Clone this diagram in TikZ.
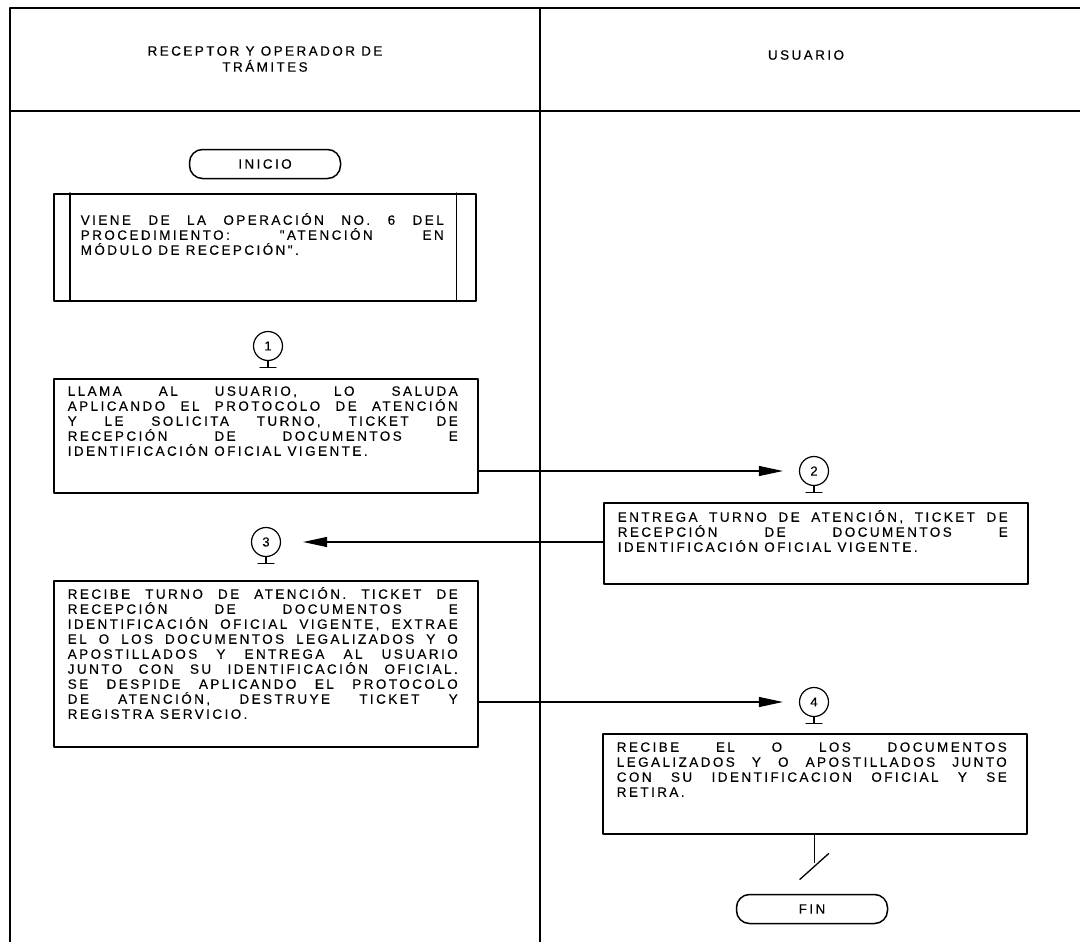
\documentclass[tikz,border=0pt]{standalone}
\usepackage{fontspec}
\setmainfont{Liberation Sans}
\newfontfamily\fuente{Liberation Sans}[LetterSpace=18,FakeBold=0.3]
\usetikzlibrary{
    arrows.meta,
    positioning,
    calc
}
\tikzstyle{flecha} = [line width=1.1pt,-{Triangle[length=24pt,width=10pt]}]
\tolerance=10000
\hbadness=10000
\hyphenpenalty=10000
% margen derecho e interlineado dentro de las cajas
\newcommand{\ajuste}[1]{\rightskip=#1\relax\baselineskip=15pt\relax\tolerance=10000\relax}

\begin{document}
\begin{tikzpicture}[
        x=1pt, y=-1pt,
        line cap=round,
        line join=round,
        texto/.style={font=\fuente\fontsize{13.5}{15}\selectfont},
        marco/.style={line width=1.8pt},
        caja/.style={draw, line width=1.5pt, anchor=north west, inner xsep=14pt,
            inner ysep=0pt, text width=396pt, align=justify, texto},
        paso/.style={draw, circle, minimum size=29pt, inner sep=0pt, line width=1.2pt,
            font=\fuente\fontsize{13}{13}\selectfont},
        extremo/.style={draw, rounded corners=13pt, minimum width=151pt,
            minimum height=29pt, line width=1.5pt, texto}
    ]

        \useasboundingbox (0,0) rectangle (1080,942);

        % marco y carriles
        \draw[marco] (10,942) -- (10,8) -- (1080,8);
        \draw[marco] (10,111) -- (1080,111);
        \draw[marco] (540,8) -- (540,942);

        % encabezados
        \node[texto, align=center] (carril1) at (265,59) {RECEPTOR Y OPERADOR DE\\[1pt]TRÁMITES};
        \node[texto] (carril2) at (806,55) {USUARIO};

        % inicio y proceso previo
        \node[extremo] (inicio) at (265,164) {INICIO};

        \node[caja, text width=368pt, inner xsep=27pt, text height=31pt, text depth=76pt]
            (pre) at (53,193)
            {\ajuste{5pt}VIENE DE LA OPERACIÓN NO. 6 DEL\linebreak
             PROCEDIMIENTO: "ATENCIÓN EN\linebreak
             MÓDULO DE RECEPCIÓN".\par};
        \draw[line width=1.5pt] ([xshift=17pt]pre.north west) -- ([xshift=17pt]pre.south west);
        \draw[line width=1.5pt] ([xshift=-20pt]pre.north east) -- ([xshift=-20pt]pre.south east);

        % pasos
        \node[paso] (c1) at (268,346) {1};
        \node[paso] (c2) at (814,471) {2};
        \node[paso] (c3) at (266,542) {3};
        \node[paso] (c4) at (814,702) {4};

        \foreach \c in {c1,c2,c3,c4}
            \draw[line width=1.2pt] (\c.south) -- ++(0,6) ++(-8,0) -- ++(16,0);

        % actividades
        \node[caja, text height=17pt, text depth=97pt] (b1) at (53,378)
            {\ajuste{6pt}LLAMA AL USUARIO, LO SALUDA\linebreak
             APLICANDO EL PROTOCOLO DE ATENCIÓN\linebreak
             Y LE SOLICITA TURNO, TICKET DE\linebreak
             RECEPCIÓN DE DOCUMENTOS E\linebreak
             IDENTIFICACIÓN OFICIAL VIGENTE.\par};

        \node[caja, text height=19pt, text depth=62pt] (b2) at (603,502)
            {\ajuste{6pt}ENTREGA TURNO DE ATENCIÓN, TICKET DE\linebreak
             RECEPCIÓN DE DOCUMENTOS E\linebreak
             IDENTIFICACIÓN OFICIAL VIGENTE.\par};

        \node[caja, text height=18pt, text depth=148pt] (b3) at (53,580)
            {\ajuste{6pt}RECIBE TURNO DE ATENCIÓN. TICKET DE\linebreak
             RECEPCIÓN DE DOCUMENTOS E\linebreak
             IDENTIFICACIÓN OFICIAL VIGENTE, EXTRAE\linebreak
             EL O LOS DOCUMENTOS LEGALIZADOS Y O\linebreak
             APOSTILLADOS Y ENTREGA AL USUARIO\linebreak
             JUNTO CON SU IDENTIFICACIÓN OFICIAL.\linebreak
             SE DESPIDE APLICANDO EL PROTOCOLO\linebreak
             DE ATENCIÓN, DESTRUYE TICKET Y\linebreak
             REGISTRA SERVICIO.\par};

        \node[caja, text height=18pt, text depth=82pt] (b4) at (602,733)
            {\ajuste{6pt}RECIBE EL O LOS DOCUMENTOS\linebreak
             LEGALIZADOS Y O APOSTILLADOS JUNTO\linebreak
             CON SU IDENTIFICACION OFICIAL Y SE\linebreak
             RETIRA.\par};

        % flujo entre carriles
        \draw[flecha, shorten >=16pt] (b1.east |- c2) -- (c2.west);
        \draw[flecha, shorten >=22pt] (b2.west |- c3) -- (c3.east);
        \draw[flecha, shorten >=16pt] (b3.east |- c4) -- (c4.west);

        % fin
        \coordinate (corte) at ($(b4.south)+(0,28)$);
        \draw[line width=1.3pt] (b4.south) -- (corte);
        \draw[line width=1.3pt] ($(corte)+(14,-9)$) -- ($(corte)+(-15,17)$);

        \node[extremo] (fin) at (812,909) {FIN};

    \end{tikzpicture}
\end{document}
